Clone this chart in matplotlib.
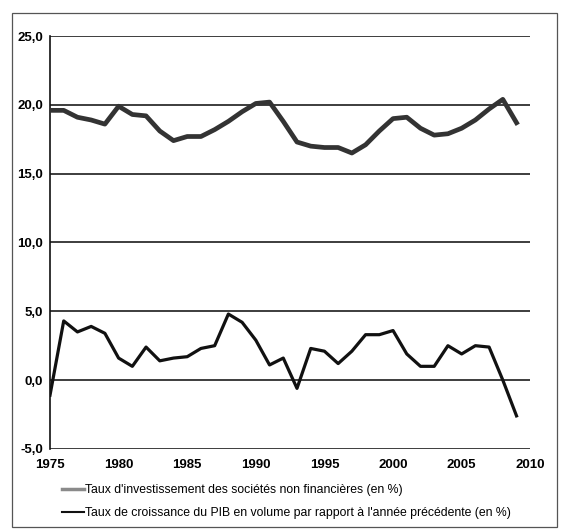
import matplotlib
matplotlib.use("Agg")
import matplotlib.pyplot as plt
from matplotlib.patches import Rectangle
from matplotlib.ticker import FuncFormatter

# taux d'investissement / croissance du PIB, France 1975-2009
years = list(range(1975, 2010))
investissement = [19.6, 19.6, 19.1, 18.9, 18.6, 19.9, 19.3, 19.2, 18.1, 17.4,
                  17.7, 17.7, 18.2, 18.8, 19.5, 20.1, 20.2, 18.8, 17.3, 17.0,
                  16.9, 16.9, 16.5, 17.1, 18.1, 19.0, 19.1, 18.3, 17.8, 17.9,
                  18.3, 18.9, 19.7, 20.4, 18.7]
croissance = [-1.1, 4.3, 3.5, 3.9, 3.4, 1.6, 1.0, 2.4, 1.4, 1.6,
              1.7, 2.3, 2.5, 4.8, 4.2, 2.9, 1.1, 1.6, -0.6, 2.3,
              2.1, 1.2, 2.1, 3.3, 3.3, 3.6, 1.9, 1.0, 1.0, 2.5,
              1.9, 2.5, 2.4, 0.0, -2.6]
xticks = [1975, 1980, 1985, 1990, 1995, 2000, 2005, 2010]
yticks = [-5, 0, 5, 10, 15, 20, 25]

lab_inv = "Taux d'investissement des sociétés non financières (en %)"
lab_pib = "Taux de croissance du PIB en volume par rapport à l'année précédente (en %)"

plt.rcParams['font.family'] = ['Liberation Sans', 'DejaVu Sans']

fig = plt.figure(figsize=(5.65, 5.3), dpi=100)
ax = fig.add_axes([0.0885, 0.153, 0.85, 0.779])

for v in yticks:
    ax.axhline(v, color='#2e2e2e', lw=1.3, zorder=1)

ax.plot(years, investissement, color='#333333', lw=3.4, label=lab_inv, zorder=3)
ax.plot(years, croissance, color='#111111', lw=2.3, label=lab_pib, zorder=3)

ax.set_xlim(1975, 2010)
ax.set_ylim(-5, 25)
ax.set_xticks(xticks)
ax.set_yticks(yticks)
ax.yaxis.set_major_formatter(FuncFormatter(lambda v, p: ('%.1f' % v).replace('.', ',')))
ax.tick_params(length=0, labelsize=9.5, pad=5)
for t in ax.get_xticklabels() + ax.get_yticklabels():
    t.set_fontweight('bold')
ax.tick_params(axis='x', pad=7)

for s in ['top', 'right', 'bottom']:
    ax.spines[s].set_visible(False)
ax.spines['left'].set_color('#111111')
ax.spines['left'].set_linewidth(1.2)

# legend: gray sample for the investment line, black for growth
h1, = ax.plot([], [], color='#8a8a8a', lw=2.5)
h2, = ax.plot([], [], color='#111111', lw=1.5)
fig.legend([h1, h2], [lab_inv, lab_pib], loc='lower left',
           bbox_to_anchor=(0.09, 0.0), frameon=False, fontsize=8.8,
           handlelength=1.8, handletextpad=0.1, labelspacing=0.9)

fig.patches.append(Rectangle((0.021, 0.006), 0.965, 0.97, transform=fig.transFigure,
                             fill=False, edgecolor='#555555', lw=0.9))

fig.savefig('out.png', dpi=100)
plt.close(fig)
